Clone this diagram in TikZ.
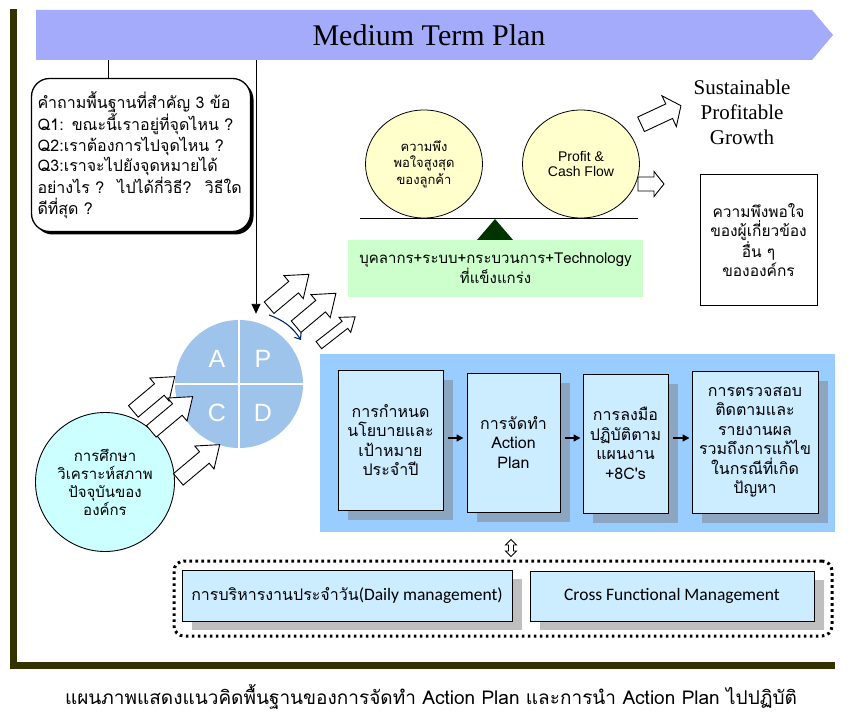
\documentclass[tikz,border=0pt]{standalone}
\usepackage{fontspec}
\newfontfamily\thai[Script=Thai]{Loma}
\newfontfamily\lsans{Liberation Sans}
\newfontfamily\lserif{Liberation Serif}
\newfontfamily\carl{Carlito}
\usetikzlibrary{arrows.meta,shapes.geometric,shadows,calc}
\definecolor{bannerblue}{RGB}{163,171,250}
\definecolor{olivebar}{RGB}{51,51,0}
\definecolor{pdcablue}{RGB}{158,196,236}
\definecolor{studycyan}{RGB}{204,255,255}
\definecolor{yellowc}{RGB}{255,255,204}
\definecolor{greenbox}{RGB}{204,255,204}
\definecolor{trigreen}{RGB}{0,51,0}
\definecolor{panelblue}{RGB}{153,204,255}
\definecolor{boxblue}{RGB}{204,236,255}
\definecolor{shadowblue}{RGB}{140,165,192}
\definecolor{shadowgray}{RGB}{191,191,191}
\definecolor{navyarc}{RGB}{0,40,110}
\newcommand\bArrow[6]{%
  \begin{scope}[shift={(#1)},rotate=#2]
    \draw[fill=white,line width=0.9pt,line join=miter]
      ({-(#3)/2},{-(#4)/2}) -- ({(#3)/2-(#6)},{-(#4)/2}) -- ({(#3)/2-(#6)},{-(#5)/2})
      -- ({(#3)/2},0) -- ({(#3)/2-(#6)},{(#5)/2}) -- ({(#3)/2-(#6)},{(#4)/2})
      -- ({-(#3)/2},{(#4)/2}) -- cycle;
  \end{scope}}
\begin{document}
\begin{tikzpicture}[x=1pt,y=-1pt,
  procbox/.style={draw,line width=1pt,fill=boxblue,inner sep=2pt,align=center,
    font=\thai\fontsize{16}{19.5}\selectfont,
    drop shadow={shadow xshift=10pt,shadow yshift=-10pt,fill=shadowblue,opacity=1}},
  dailybox/.style={draw,line width=1pt,fill=boxblue,inner sep=2pt,align=center,
    drop shadow={shadow xshift=10pt,shadow yshift=-9pt,fill=shadowgray,opacity=1}},
  ycircle/.style={ellipse,draw,line width=0.8pt,fill=yellowc,minimum width=117pt,minimum height=108pt,align=center,inner sep=0pt},
  parr/.style={-{Triangle[length=7pt,width=7pt]},line width=1.4pt}
  ]
\useasboundingbox (0,0) rectangle (853,727);

% frame bars
\fill[olivebar] (10,9) rectangle (17,669);
\fill[olivebar] (10,662) rectangle (835,669);

% banner
\fill[bannerblue] (36,10) -- (812,10) -- (833,35) -- (812,60) -- (36,60) -- cycle;
\node (banner) at (429,35.5) {\lserif\fontsize{30}{32}\selectfont Medium Term Plan};
\coordinate (b1) at (108,60);
\coordinate (b2) at (256,60);

% question box
\node[draw,line width=1.3pt,rounded corners=18pt,fill=white,minimum width=219pt,minimum height=153pt,
  text width=207pt,align=left,inner sep=0pt,
  font=\thai\fontsize{16}{20.6}\selectfont,
  drop shadow={shadow xshift=3pt,shadow yshift=-3pt,fill=black,opacity=1}]
  (qbox) at (141,155) {คำถามพื้นฐานที่สำคัญ 3 ข้อ\\Q1: ขณะนี้เราอยู่ที่จุดไหน ?\\Q2:เราต้องการไปจุดไหน ?\\Q3:เราจะไปยังจุดหมายได้\\อย่างไร ?~ ไปได้กี่วิธี?~ วิธีใด\\ดีที่สุด ?};
\draw[line width=0.9pt] (b1) -- (b1 |- qbox.north);

% PDCA circle
\node[circle,fill=pdcablue,minimum size=128pt,inner sep=0pt] (pdca) at (239,384) {};
\draw[white,line width=2pt] (pdca.north) -- (pdca.south);
\draw[white,line width=2pt] (pdca.west) -- (pdca.east);
\node[white,font=\lsans\fontsize{25}{28}\selectfont] (qa) at (217,359) {A};
\node[white,font=\lsans\fontsize{25}{28}\selectfont] (qp) at (263,359) {P};
\node[white,font=\lsans\fontsize{25}{28}\selectfont] (qc) at (217,413) {C};
\node[white,font=\lsans\fontsize{25}{28}\selectfont] (qd) at (263,413) {D};
\draw[line width=0.9pt,-{Triangle[length=10pt,width=9pt]},shorten >=6pt] (b2) -- (b2 |- pdca.north);

% study circle
\node[circle,draw,line width=0.9pt,fill=studycyan,minimum size=139pt,inner sep=0pt,align=center,
  font=\thai\fontsize{15}{18}\selectfont] (study) at (105,482)
  {การศึกษา\\วิเคราะห์สภาพ\\ปัจจุบันของ\\องค์กร};

% block arrows lower group
\bArrow{154,394}{40}{54}{15}{30}{20}
\bArrow{172,414}{40}{54}{15}{30}{20}
\bArrow{199,462}{40}{54}{15}{30}{20}
% block arrows upper group
\bArrow{289,291}{40}{52}{15}{30}{20}
\bArrow{316,310}{40}{52}{15}{30}{20}
\bArrow{337,331}{38}{46}{9}{19}{13}

% curved blue arrow
\coordinate (ca1) at (269,315);
\coordinate (ca2) at (301,340);
\draw[navyarc,line width=1.1pt,-{Straight Barb[length=5pt,width=8pt]}] (ca1) to[bend left=18] (ca2);

% balance
\node[ycircle,font=\thai\fontsize{13}{16.5}\selectfont] (cust) at (424,164) {ความพึง\\พอใจสูงสุด\\ของลูกค้า};
\node[ycircle,font=\lsans\fontsize{14}{15.5}\selectfont] (profit) at (581,164) {Profit \&\\Cash Flow};
\draw[line width=0.9pt] (cust.south -| 360,0) -- (profit.south -| 638,0);
\fill[trigreen] (477,240) -- (495,219) -- (513,240) -- cycle;
\node[fill=greenbox,minimum width=295pt,minimum height=57pt,align=center,inner sep=0pt,
  font=\thai\fontsize{15}{17.5}\selectfont] (base) at (495.5,268.5)
  {บุคลากร+ระบบ+กระบวนการ+Technology\\ที่แข็งแกร่ง};

% right side
\bArrow{661,115}{25}{44}{16}{34}{13}
\bArrow{651,184}{0}{26}{14}{25}{10}
\node[align=center,font=\lserif\fontsize{21}{25}\selectfont] (spg) at (742,112) {Sustainable\\Profitable\\Growth};
\node[draw,line width=1pt,fill=white,minimum width=117pt,minimum height=130pt,align=center,inner sep=0pt,
  font=\thai\fontsize{15.5}{19}\selectfont] (stake) at (758.5,240)
  {ความพึงพอใจ\\ของผู้เกี่ยวข้อง\\อื่น ๆ\\ขององค์กร};

% process panel
\node[fill=panelblue,minimum width=515pt,minimum height=178pt,inner sep=0pt] (panel) at (577.5,443) {};
\node[procbox,minimum width=105pt,minimum height=140pt] (p1) at (390.5,440) {การกำหนด\\นโยบายและ\\เป้าหมาย\\ประจำปี};
\node[procbox,minimum width=93pt,minimum height=139pt] (p2) at (513.5,442.5) {การจัดทำ\\Action\\Plan};
\node[procbox,minimum width=85pt,minimum height=139pt] (p3) at (625.5,443.5) {การลงมือ\\ปฏิบัติตาม\\แผนงาน\\+8C's};
\node[procbox,minimum width=126pt,minimum height=142pt] (p4) at (755,442) {การตรวจสอบ\\ติดตามและ\\รายงานผล\\รวมถึงการแก้ไข\\ในกรณีที่เกิด\\ปัญหา};
\draw[parr,shorten <=4pt,shorten >=3pt] (p1.east |- 0,438) -- (p2.west |- 0,438);
\draw[parr,shorten <=4pt,shorten >=2pt] (p2.east |- 0,438) -- (p3.west |- 0,438);
\draw[parr,shorten <=4pt,shorten >=2pt] (p3.east |- 0,438) -- (p4.west |- 0,438);

% dotted group
\node[draw,line width=3pt,dash pattern=on 2.6pt off 3.4pt,rounded corners=10pt,
  minimum width=658pt,minimum height=75pt,inner sep=0pt] (dbox) at (503,598.5) {};
\node[dailybox,minimum width=330pt,minimum height=51pt] (dA) at (347,595.5)
  {{\thai\fontsize{16}{19}\selectfont การบริหารงานประจำวัน}{\carl\fontsize{17.5}{19}\selectfont(Daily management)}};
\node[dailybox,minimum width=284pt,minimum height=50pt,font=\carl\fontsize{17.5}{19}\selectfont] (dB) at (672,596)
  {Cross Functional Management};

% up-down hollow arrow between panel and dotted group
\draw[line width=0.9pt,fill=white,line join=miter]
  (508.5,545) -- (508.5,551) -- (505.5,551) -- (511,556.5) -- (516.5,551) -- (513.5,551)
  -- (513.5,545) -- (516.5,545) -- (511,539.5) -- (505.5,545) -- cycle;

% caption
\node[font=\thai\fontsize{19}{22}\selectfont] (caption) at (431,697)
  {แผนภาพแสดงแนวคิดพื้นฐานของการจัดทำ Action Plan และการนำ Action Plan ไปปฏิบัติ};
\end{tikzpicture}
\end{document}
